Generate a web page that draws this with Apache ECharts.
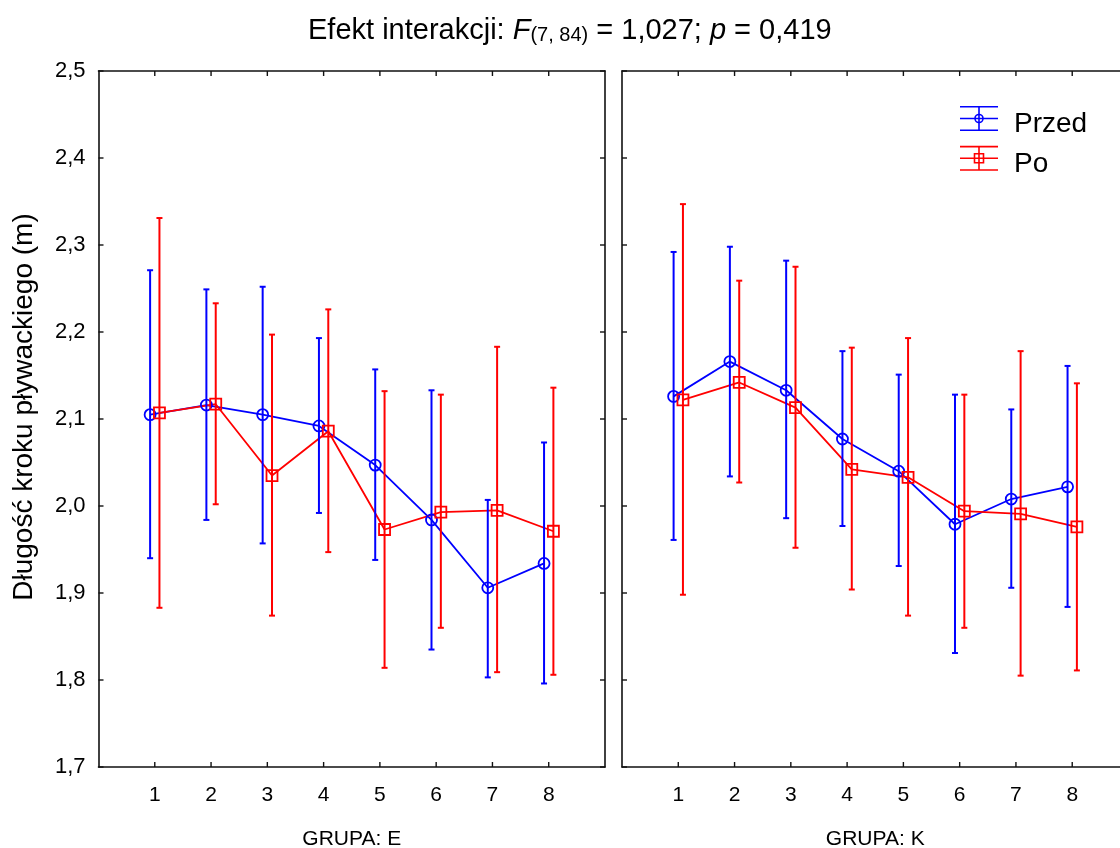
<!DOCTYPE html>
<html><head><meta charset="utf-8">
<script src="https://cdn.jsdelivr.net/npm/echarts@6/dist/echarts.min.js"></script>
<style>html,body{margin:0;padding:0;background:#fff;overflow:hidden}#c{width:1120px;height:848px}</style>
</head><body><div id="c"></div>
<script>
// ---- data ----
const groups = ['1', '2', '3', '4', '5', '6', '7', '8'];
const panelNames = ['GRUPA: E', 'GRUPA: K'];
const seriesNames = ['Przed', 'Po'];
const yTickLabels = ['1,7', '1,8', '1,9', '2,0', '2,1', '2,2', '2,3', '2,4', '2,5'];

const przedE_mean = [2.105, 2.116, 2.105, 2.092, 2.047, 1.984, 1.906, 1.934];
const przedE_lo   = [1.940, 1.984, 1.957, 1.992, 1.938, 1.835, 1.803, 1.796];
const przedE_hi   = [2.271, 2.249, 2.252, 2.193, 2.157, 2.133, 2.007, 2.073];
const poE_mean    = [2.107, 2.117, 2.035, 2.086, 1.973, 1.993, 1.995, 1.971];
const poE_lo      = [1.883, 2.002, 1.874, 1.947, 1.814, 1.860, 1.809, 1.806];
const poE_hi      = [2.331, 2.233, 2.197, 2.226, 2.132, 2.128, 2.183, 2.136];

const przedK_mean = [2.126, 2.166, 2.133, 2.077, 2.040, 1.979, 2.008, 2.022];
const przedK_lo   = [1.961, 2.034, 1.986, 1.977, 1.931, 1.831, 1.906, 1.884];
const przedK_hi   = [2.292, 2.298, 2.282, 2.178, 2.151, 2.128, 2.111, 2.161];
const poK_mean    = [2.122, 2.142, 2.113, 2.042, 2.033, 1.994, 1.991, 1.976];
const poK_lo      = [1.898, 2.027, 1.952, 1.904, 1.874, 1.860, 1.805, 1.811];
const poK_hi      = [2.347, 2.259, 2.275, 2.182, 2.193, 2.128, 2.178, 2.141];

// ---- axis ranges & styling ----
const XMIN = 0, XMAX = 9, YMIN = 1.7, YMAX = 2.5, YSTEP = 0.1;
const FONT = '"Liberation Sans", Arial, sans-serif';
const COLORS = ['#0000ff', '#ff0000'];
const SYMBOLS = ['circle', 'rect'];
const DODGE = 0.083;
const AXIS_COLOR = '#111';
const TICK_LEN = 5;

const panelData = [
  [[przedE_mean, przedE_lo, przedE_hi], [poE_mean, poE_lo, poE_hi]],
  [[przedK_mean, przedK_lo, przedK_hi], [poK_mean, poK_lo, poK_hi]]
];

const grids = [
  { left: 98.5, top: 71, width: 506.5, height: 696, outerBoundsMode: 'none', containLabel: false },
  { left: 622, top: 71, width: 506.5, height: 696, outerBoundsMode: 'none', containLabel: false }
];

const xAxes = [], yAxes = [], series = [];
const mkLine = () => ({ show: true, onZero: false, lineStyle: { color: AXIS_COLOR, width: 1.6 } });

panelNames.forEach((pn, p) => {
  xAxes.push({
    gridIndex: p, type: 'value', min: XMIN, max: XMAX, interval: 1, position: 'bottom',
    axisLine: mkLine(), axisTick: { show: false }, splitLine: { show: false },
    axisLabel: {
      margin: 18, fontSize: 21, color: '#000', fontFamily: FONT,
      formatter: v => (v >= 1 && v <= groups.length) ? groups[v - 1] : ''
    },
    name: pn, nameLocation: 'middle', nameGap: 62,
    nameTextStyle: { fontSize: 21, color: '#000', fontFamily: FONT }
  });
  xAxes.push({
    gridIndex: p, type: 'value', min: XMIN, max: XMAX, interval: 1, position: 'top',
    axisLine: mkLine(), axisTick: { show: false }, splitLine: { show: false }, axisLabel: { show: false }
  });
  yAxes.push({
    gridIndex: p, type: 'value', min: YMIN, max: YMAX, interval: YSTEP, position: 'left',
    axisLine: mkLine(), axisTick: { show: false }, splitLine: { show: false },
    axisLabel: {
      show: p === 0, margin: 13, fontSize: 22, color: '#000', fontFamily: FONT,
      formatter: v => yTickLabels[Math.round((v - YMIN) / YSTEP)]
    },
    name: p === 0 ? 'Długość kroku pływackiego (m)' : '',
    nameLocation: 'middle', nameGap: 60, nameRotate: 90,
    nameTextStyle: { fontSize: 28, color: '#000', fontFamily: FONT, padding: [0, 0, 0, 24] }
  });
  yAxes.push({
    gridIndex: p, type: 'value', min: YMIN, max: YMAX, interval: YSTEP, position: 'right',
    axisLine: mkLine(), axisTick: { show: false }, splitLine: { show: false }, axisLabel: { show: false }
  });

  // inward ticks on all four sides of the frame, placed through the axes' scales
  const tickData = [];
  groups.forEach((g, i) => tickData.push([0, i + 1]));
  yTickLabels.forEach((t, i) => tickData.push([1, YMIN + i * YSTEP]));
  series.push({
    type: 'custom', name: 'ticks' + p, xAxisIndex: p * 2, yAxisIndex: p * 2,
    data: tickData, clip: false, silent: true, z: 2,
    encode: { x: -1, y: -1 },
    renderItem: (params, api) => {
      const kind = api.value(0), v = api.value(1);
      const st = { stroke: AXIS_COLOR, lineWidth: 1.4 };
      if (kind === 0) {
        const b = api.coord([v, YMIN]), t = api.coord([v, YMAX]);
        return { type: 'group', children: [
          { type: 'line', shape: { x1: b[0], y1: b[1], x2: b[0], y2: b[1] - TICK_LEN }, style: st },
          { type: 'line', shape: { x1: t[0], y1: t[1], x2: t[0], y2: t[1] + TICK_LEN }, style: st }
        ] };
      }
      const l = api.coord([XMIN, v]), r = api.coord([XMAX, v]);
      return { type: 'group', children: [
        { type: 'line', shape: { x1: l[0], y1: l[1], x2: l[0] + TICK_LEN, y2: l[1] }, style: st },
        { type: 'line', shape: { x1: r[0], y1: r[1], x2: r[0] - TICK_LEN, y2: r[1] }, style: st }
      ] };
    }
  });

  panelData[p].forEach((sd, s) => {
    const [mean, lo, hi] = sd;
    const off = s === 0 ? -DODGE : DODGE;
    const color = COLORS[s];
    series.push({
      type: 'line', name: seriesNames[s], xAxisIndex: p * 2, yAxisIndex: p * 2,
      data: groups.map((g, i) => [i + 1 + off, mean[i]]),
      showSymbol: false, symbol: 'none', silent: true,
      lineStyle: { color, width: 1.8 }, z: 3
    });
    series.push({
      type: 'custom', name: seriesNames[s] + ' err', xAxisIndex: p * 2, yAxisIndex: p * 2,
      data: groups.map((g, i) => [i + 1 + off, mean[i], lo[i], hi[i]]),
      clip: false, z: 4,
      renderItem: (params, api) => {
        const x = api.value(0);
        const pm = api.coord([x, api.value(1)]);
        const pl = api.coord([x, api.value(2)]);
        const ph = api.coord([x, api.value(3)]);
        const cw = 3;
        const st = { stroke: color, lineWidth: 2, fill: 'none' };
        const children = [
          { type: 'line', shape: { x1: pm[0], y1: pl[1], x2: pm[0], y2: ph[1] }, style: st },
          { type: 'line', shape: { x1: pm[0] - cw, y1: pl[1], x2: pm[0] + cw, y2: pl[1] }, style: st },
          { type: 'line', shape: { x1: pm[0] - cw, y1: ph[1], x2: pm[0] + cw, y2: ph[1] }, style: st }
        ];
        if (SYMBOLS[s] === 'circle') {
          children.push({ type: 'circle', shape: { cx: pm[0], cy: pm[1], r: 5.5 }, style: { stroke: color, lineWidth: 1.8, fill: 'none' } });
        } else {
          children.push({ type: 'rect', shape: { x: pm[0] - 5.5, y: pm[1] - 5.5, width: 11, height: 11 }, style: { stroke: color, lineWidth: 1.8, fill: 'none' } });
        }
        return { type: 'group', children };
      }
    });
  });
});

// legend drawn with graphic elements
const legendItems = seriesNames.map((nm, s) => {
  const cy = s === 0 ? 118.5 : 158.3;
  const x0 = 960, x1 = 998, xc = 979, h = 11.7;
  const st = { stroke: COLORS[s], lineWidth: 1.6, fill: 'none' };
  const marker = SYMBOLS[s] === 'circle'
    ? { type: 'circle', shape: { cx: xc, cy, r: 4 }, style: st }
    : { type: 'rect', shape: { x: xc - 4.5, y: cy - 4.5, width: 9, height: 9 }, style: st };
  return {
    type: 'group', children: [
      { type: 'line', shape: { x1: x0, y1: cy - h, x2: x1, y2: cy - h }, style: st },
      { type: 'line', shape: { x1: x0, y1: cy, x2: x1, y2: cy }, style: st },
      { type: 'line', shape: { x1: x0, y1: cy + h, x2: x1, y2: cy + h }, style: st },
      { type: 'line', shape: { x1: xc, y1: cy - h, x2: xc, y2: cy + h }, style: st },
      marker,
      { type: 'text', x: 1014, y: cy + 5.5, style: { text: nm, fontSize: 28, fontFamily: FONT, fill: '#000', verticalAlign: 'middle', align: 'left' } }
    ]
  };
});

const chart = echarts.init(document.getElementById('c'), null, { renderer: 'canvas' });
chart.setOption({
  backgroundColor: '#fff',
  animation: false,
  title: {
    left: 303, top: 6,
    text: '{n|Efekt interakcji: }{i|F}{s|(7, 84)}{n| = 1,027; }{i|p}{n| = 0,419}',
    textStyle: {
      fontWeight: 'normal',
      rich: {
        n: { fontSize: 29, lineHeight: 34, fontFamily: FONT, fontWeight: 'normal', color: '#000', verticalAlign: 'bottom' },
        i: { fontSize: 29, lineHeight: 34, fontFamily: FONT, fontWeight: 'normal', color: '#000', fontStyle: 'italic', verticalAlign: 'bottom' },
        s: { fontSize: 20, lineHeight: 20, fontFamily: FONT, fontWeight: 'normal', color: '#000', verticalAlign: 'bottom' }
      }
    }
  },
  grid: grids,
  xAxis: xAxes,
  yAxis: yAxes,
  series,
  graphic: legendItems
});
</script></body></html>
